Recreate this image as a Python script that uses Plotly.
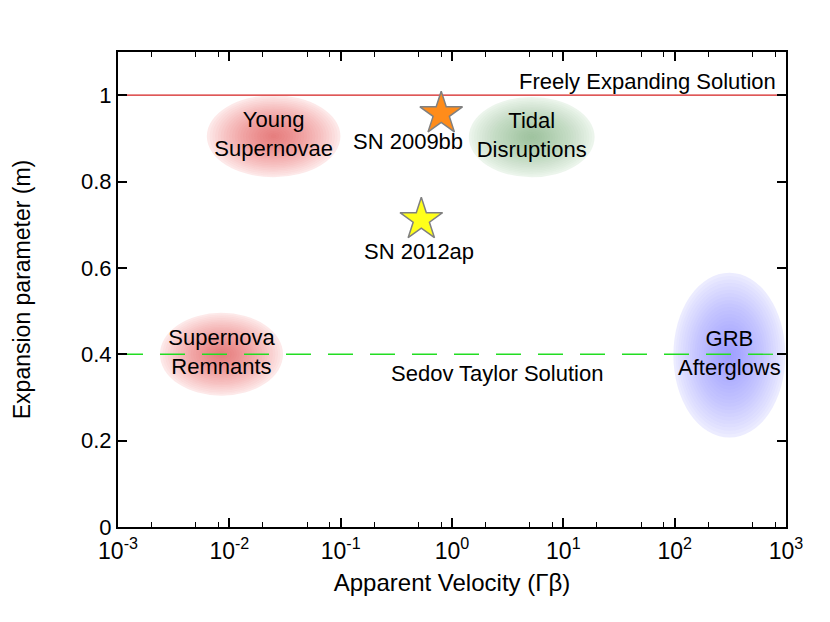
import numpy as np
import plotly.graph_objects as go

# regions: centre (x, m) and half extents (decades in x, linear in m)
region_names = ["Young<br>Supernovae", "Tidal<br>Disruptions", "Supernova<br>Remnants", "GRB<br>Afterglows"]
region_x = [0.025, 5.2, 0.0085, 310.0]
region_m = [0.905, 0.903, 0.40, 0.398]
region_xhalf = [0.60, 0.565, 0.553, 0.503]
region_mhalf = [0.095, 0.093, 0.096, 0.191]
region_rgb = [(240, 70, 70), (100, 175, 100), (240, 70, 70), (100, 100, 255)]

# supernovae
sn_names = ["SN 2009bb", "SN 2012ap"]
sn_x = [0.80, 0.53]
sn_m = [0.957, 0.712]
sn_colors = ["#ff8c1a", "#ffff1a"]

# analytic solutions
solution_names = ["Freely Expanding Solution", "Sedov Taylor Solution"]
solution_m = [1.0, 0.4]

x_range = [1e-3, 1e3]
decades = list(range(-3, 4))
tick_text = ["10<sup>%d</sup>" % d for d in decades]

FONT = "Liberation Sans, Arial, Helvetica, sans-serif"
FS = 22

fig = go.Figure()

# gradient ellipses: a faint base plus many stacked translucent layers
shapes = []
n_layers = 24
for cx, cm, hx, hm, rgb in zip(region_x, region_m, region_xhalf, region_mhalf, region_rgb):
    shapes.append(dict(
        type="circle", xref="x", yref="y", layer="below",
        x0=cx * 10 ** (-hx), x1=cx * 10 ** hx, y0=cm - hm, y1=cm + hm,
        fillcolor="rgba(%d,%d,%d,0.12)" % rgb, line=dict(width=0),
    ))
    for k in range(1, n_layers):
        f = 1 - k / n_layers
        shapes.append(dict(
            type="circle", xref="x", yref="y", layer="below",
            x0=cx * 10 ** (-hx * f), x1=cx * 10 ** (hx * f),
            y0=cm - hm * f, y1=cm + hm * f,
            fillcolor="rgba(%d,%d,%d,0.035)" % rgb, line=dict(width=0),
        ))

fig.add_trace(go.Scatter(x=x_range, y=[solution_m[0]] * 2, mode="lines",
                         line=dict(color="#d42020", width=1.2), hoverinfo="skip"))
fig.add_trace(go.Scatter(x=x_range, y=[solution_m[1]] * 2, mode="lines",
                         line=dict(color="#22dd22", width=1.3, dash="25px,17px"), hoverinfo="skip"))

fig.add_trace(go.Scatter(
    x=region_x, y=region_m, mode="text", text=region_names,
    textfont=dict(family=FONT, size=FS, color="black"), hoverinfo="skip",
))

fig.add_trace(go.Scatter(
    x=sn_x, y=sn_m, mode="markers",
    marker=dict(symbol="star", size=32, color=sn_colors, line=dict(color="#808080", width=1.5)),
    hovertext=sn_names,
))

annotations = []
for name, x, m, dx, dy in zip(sn_names, sn_x, sn_m, [-33, -2], [-28, -32]):
    annotations.append(dict(x=np.log10(x), y=m, xref="x", yref="y", text=name, showarrow=False,
                            xshift=dx, yshift=dy, font=dict(family=FONT, size=FS, color="black")))
annotations.append(dict(x=np.log10(x_range[1]), y=solution_m[0], xref="x", yref="y",
                        text=solution_names[0], showarrow=False, xanchor="right",
                        xshift=-8, yshift=14, font=dict(family=FONT, size=FS, color="black")))
annotations.append(dict(x=np.log10(2.55), y=solution_m[1], xref="x", yref="y",
                        text=solution_names[1], showarrow=False,
                        yshift=-19, font=dict(family=FONT, size=FS, color="black")))

minor_vals = [m * 10 ** d for d in decades[:-1] for m in (2, 5, 8)]

fig.update_layout(
    width=814, height=606,
    margin=dict(l=110, r=36, t=44, b=87),
    paper_bgcolor="white", plot_bgcolor="white",
    showlegend=False,
    shapes=shapes,
    annotations=annotations,
    font=dict(family=FONT, size=FS, color="black"),
    xaxis=dict(
        type="log", range=[-3, 3],
        tickvals=[10 ** d for d in decades], ticktext=tick_text,
        ticks="inside", ticklen=9, tickwidth=1.5, tickcolor="black",
        minor=dict(tickmode="array", tickvals=minor_vals, ticks="inside", ticklen=5,
                   tickwidth=1.2, tickcolor="black"),
        showline=True, linecolor="black", linewidth=2, mirror="ticks",
        showgrid=False, zeroline=False,
        tickfont=dict(family=FONT, size=23),
        ticklabelstandoff=2,
        title=dict(text="Apparent Velocity (Γβ)", font=dict(family=FONT, size=24), standoff=12),
    ),
    yaxis=dict(
        range=[0, 1.1],
        tickvals=[0, 0.2, 0.4, 0.6, 0.8, 1.0], ticktext=["0", "0.2", "0.4", "0.6", "0.8", "1"],
        ticks="inside", ticklen=9, tickwidth=1.5, tickcolor="black",
        showline=True, linecolor="black", linewidth=2, mirror="ticks",
        showgrid=False, zeroline=False,
        tickfont=dict(family=FONT, size=FS),
        title=dict(text="Expansion parameter (m)", font=dict(family=FONT, size=23), standoff=44),
    ),
)

fig.write_html("out.html")
